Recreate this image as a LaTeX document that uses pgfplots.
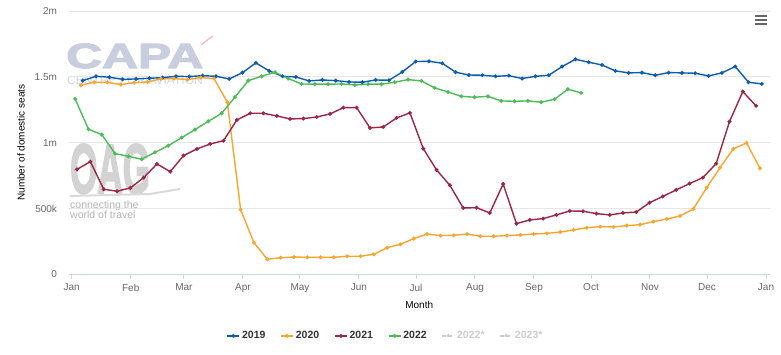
\documentclass[border=0pt]{standalone}
\usepackage{pgfplots}
\pgfplotsset{compat=1.18}
\usepackage{pgfplotstable}
\usepackage{fontspec}
\setmainfont{Liberation Sans}
\newfontfamily\logofont[BoldFeatures={FakeBold=3}]{Liberation Sans}
\usepackage{graphicx}

\definecolor{c19}{HTML}{0D5CAE}
\definecolor{c20}{HTML}{FBA42F}
\definecolor{c21}{HTML}{9B2743}
\definecolor{c22}{HTML}{4CBB58}
\definecolor{gridc}{HTML}{E6E6E6}
\definecolor{axisc}{HTML}{CCD6EB}
\definecolor{labc}{HTML}{666666}
\definecolor{legc}{HTML}{333333}
\definecolor{hidc}{HTML}{CCCCCC}
\definecolor{capac}{HTML}{C8CEDD}
\definecolor{oagc}{HTML}{D3D3D3}

\pgfplotstableread{
x y
5.8 1.471
12.8 1.504
19.8 1.497
26.8 1.481
33.8 1.484
40.8 1.489
47.8 1.494
54.8 1.504
61.8 1.502
68.8 1.509
75.8 1.504
82.8 1.484
89.8 1.532
96.8 1.606
103.8 1.545
110.8 1.504
117.8 1.499
124.8 1.469
131.8 1.476
138.8 1.471
145.8 1.461
152.8 1.459
159.8 1.476
166.8 1.474
173.8 1.537
180.8 1.616
187.8 1.618
194.8 1.603
201.8 1.535
208.8 1.514
215.8 1.512
222.8 1.504
229.8 1.509
236.8 1.487
243.8 1.504
250.8 1.512
257.8 1.578
264.8 1.633
271.8 1.611
278.8 1.590
285.8 1.545
292.8 1.530
299.8 1.532
306.8 1.512
313.8 1.532
320.8 1.530
327.8 1.527
334.8 1.507
341.8 1.530
348.8 1.578
355.8 1.459
362.8 1.446
}\dataA

\pgfplotstableread{
x y
4.8 1.436
11.8 1.459
18.8 1.459
25.8 1.441
32.8 1.456
39.8 1.461
46.8 1.484
53.8 1.487
60.8 1.479
67.8 1.494
74.8 1.487
81.8 1.307
88.8 0.491
95.8 0.240
102.8 0.114
109.8 0.126
116.8 0.131
123.8 0.129
130.8 0.129
137.8 0.129
144.8 0.137
151.8 0.137
158.8 0.152
165.8 0.202
172.8 0.228
179.8 0.271
186.8 0.306
193.8 0.294
200.8 0.296
207.8 0.306
214.8 0.289
221.8 0.289
228.8 0.294
235.8 0.299
242.8 0.306
249.8 0.311
256.8 0.321
263.8 0.337
270.8 0.354
277.8 0.362
284.8 0.360
291.8 0.370
298.8 0.377
305.8 0.400
312.8 0.420
319.8 0.443
326.8 0.496
333.8 0.658
340.8 0.810
347.8 0.952
354.8 0.998
361.8 0.805
}\dataB

\pgfplotstableread{
x y
2.8 0.797
9.8 0.856
16.8 0.646
23.8 0.631
30.8 0.656
37.8 0.734
44.8 0.838
51.8 0.780
58.8 0.902
65.8 0.952
72.8 0.990
79.8 1.015
86.8 1.172
93.8 1.223
100.8 1.223
107.8 1.203
114.8 1.180
121.8 1.183
128.8 1.195
135.8 1.218
142.8 1.266
149.8 1.266
156.8 1.112
163.8 1.119
170.8 1.188
177.8 1.226
184.8 0.955
191.8 0.793
198.8 0.676
205.8 0.504
212.8 0.506
219.8 0.466
226.8 0.686
233.8 0.385
240.8 0.413
247.8 0.423
254.8 0.451
261.8 0.481
268.8 0.479
275.8 0.461
282.8 0.451
289.8 0.466
296.8 0.473
303.8 0.544
310.8 0.592
317.8 0.641
324.8 0.689
331.8 0.734
338.8 0.841
345.8 1.160
352.8 1.388
359.8 1.279
}\dataC

\pgfplotstableread{
x y
1.8 1.332
8.8 1.102
15.8 1.061
22.8 0.917
29.8 0.896
36.8 0.874
43.8 0.927
50.8 0.977
57.8 1.038
64.8 1.099
71.8 1.162
78.8 1.223
85.8 1.345
92.8 1.471
99.8 1.504
106.8 1.535
113.8 1.487
120.8 1.446
127.8 1.444
134.8 1.444
141.8 1.446
148.8 1.438
155.8 1.444
162.8 1.444
169.8 1.459
176.8 1.479
183.8 1.469
190.8 1.416
197.8 1.385
204.8 1.352
211.8 1.345
218.8 1.352
225.8 1.317
232.8 1.314
239.8 1.317
246.8 1.307
253.8 1.330
260.8 1.406
267.8 1.378
}\dataD

\begin{document}
\begin{tikzpicture}
\useasboundingbox (0pt,0pt) rectangle (781pt,354pt);
% watermarks
\node[anchor=base west, text=capac, inner sep=0pt] at (66pt,286pt)
  {\raisebox{0pt}[\height][0pt]{\scalebox{1.42}[1]{\fontsize{35}{35}\selectfont\logofont\bfseries CAPA}}};
\draw[color=red!28, line width=1.3pt] (201pt,309pt) .. controls (206pt,313pt) .. (213pt,318pt);
\node[anchor=base west, text=capac!85, inner sep=0pt] at (67pt,269pt)
  {\fontsize{12}{12}\selectfont CENTRE FOR AVIATION};
\node[anchor=base west, text=oagc, inner sep=0pt] at (70pt,161pt)
  {\raisebox{0pt}[\height][0pt]{\scalebox{0.5}[1]{\fontsize{70}{70}\selectfont\logofont\bfseries OAG}}};
\draw[color=oagc!85, line width=2pt] (70pt,158pt) -- (150pt,160pt) .. controls (165pt,162pt) .. (180pt,165pt);
\node[anchor=base west, text=oagc!85!black, inner sep=0pt] at (70pt,145.5pt)
  {\fontsize{10.5}{10.5}\selectfont connecting the};
\node[anchor=base west, text=oagc!85!black, inner sep=0pt] at (70pt,135.5pt)
  {\fontsize{10.5}{10.5}\selectfont world of travel};
% menu icon
\foreach \yy in {338,334,330} {\draw[color=labc, line width=1.8pt] (755pt,\yy pt) -- (767pt,\yy pt);}
\begin{axis}[
  at={(68.5pt,79.7pt)}, anchor=south west,
  width=701.5pt, height=263.3pt, scale only axis,
  xmin=-1.7, xmax=367.1, ymin=0, ymax=2,
  axis x line*=bottom, axis y line*=left,
  y axis line style={draw=none},
  x axis line style={draw=axisc, line width=1pt},
  ymajorgrids, grid style={color=gridc, line width=0.8pt},
  xtick={0,31,59,90,120,151,181,212,243,273,304,334,365},
  xticklabels={Jan,Feb,Mar,Apr,May,Jun,Jul,Aug,Sep,Oct,Nov,Dec,Jan},
  ytick={0,0.5,1,1.5,2},
  yticklabels={0,500k,1m,1.5m,2m},
  tick align=outside, major tick length=5pt,
  xtick style={color=axisc, line width=1pt},
  ytick style={draw=none},
  /pgf/number format/assume math mode=true,
  ticklabel style={font=\fontsize{10}{12}\selectfont, text=labc},
  xticklabel style={anchor=north, yshift=-1pt},
  yticklabel style={anchor=east, xshift=-3pt},
  xlabel={Month}, ylabel={Number of domestic seats},
  label style={font=\fontsize{10}{12}\selectfont, text=labc},
  every axis x label/.style={at={(axis description cs:0.5,-0.1166)}, anchor=center},
  every axis y label/.style={at={(axis description cs:-0.0677,0.5)}, rotate=90, anchor=center},
  legend columns=6,
  legend style={draw=none, fill=none, at={(axis description cs:0.452,-0.234)}, anchor=center,
    font=\fontsize{10.5}{12}\selectfont\bfseries, text=legc,
    /tikz/every even column/.append style={column sep=13pt},
    nodes={inner sep=2pt}},
  legend image code/.code={\draw[mark repeat=2,mark phase=2,#1] plot coordinates {(0pt,0pt) (6pt,0pt) (12pt,0pt)};},
  every axis plot/.append style={line width=1.4pt, mark=*, mark size=1.2pt},
  clip=false,
]
\addplot[color=c19] table[x=x,y=y] {\dataA};
\addlegendentry{2019}
\addplot[color=c20] table[x=x,y=y] {\dataB};
\addlegendentry{2020}
\addplot[color=c21] table[x=x,y=y] {\dataC};
\addlegendentry{2021}
\addplot[color=c22] table[x=x,y=y] {\dataD};
\addlegendentry{2022}
\addlegendimage{color=hidc, line width=1.4pt, dash pattern=on 4pt off 2pt, mark=*, mark size=1.2pt}
\addlegendentry{\textcolor{hidc}{2022*}}
\addlegendimage{color=hidc, line width=1.4pt, dash pattern=on 4pt off 2pt, mark=*, mark size=1.2pt}
\addlegendentry{\textcolor{hidc}{2023*}}
\end{axis}
\end{tikzpicture}
\end{document}
